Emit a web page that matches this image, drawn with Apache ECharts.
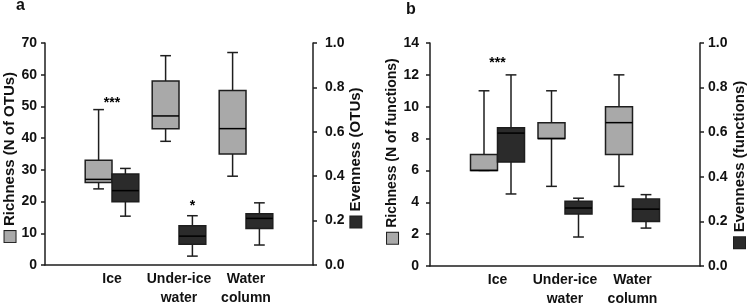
<!DOCTYPE html>
<html>
<head>
<meta charset="utf-8">
<script src="https://cdn.jsdelivr.net/npm/echarts@6/dist/echarts.min.js"></script>
<style>
html, body { margin: 0; padding: 0; background: #fff; }
#chart { width: 749px; height: 304px; }
</style>
</head>
<body>
<div id="chart"></div>
<script>
// empty slots at both ends keep the three groups off the side axes
const categories = ["", "Ice", "Under-ice\nwater", "Water\ncolumn", ""]

// [category index, min, q1, median, q3, max]
const richnessOTUs = [
    [1, 24, 26, 27, 33, 49],
    [2, 39, 43, 47, 58, 66],
    [3, 28, 35, 43, 55, 67]
]
const evennessOTUs = [
    [1, 0.22, 0.285, 0.335, 0.41, 0.435],
    [2, 0.04, 0.093, 0.13, 0.177, 0.222],
    [3, 0.09, 0.164, 0.21, 0.231, 0.28]
]
const richnessFunctions = [
    [1, 6, 6, 6, 7, 11],
    [2, 5, 8, 8, 9, 11],
    [3, 5, 7, 9, 10, 12]
]
const evennessFunctions = [
    [1, 0.323, 0.466, 0.596, 0.62, 0.857],
    [2, 0.13, 0.233, 0.26, 0.29, 0.304],
    [3, 0.17, 0.2, 0.255, 0.3, 0.32]
]

// significance marks: [category index, value, label]
const sigPairOTUs = [[1, 52.3, "***"]]
const sigEvennessOTUs = [[2, 0.284, "*"]]
const sigPairFunctions = [[1, 13, "***"]]

const LIGHT = "#a9a9a9"
const DARK = "#2b2b2b"
const INK = "#1e1e1e"
const FONT = "Liberation Sans, Arial, sans-serif"

// side: -1 box left of the category tick, 1 box right of it
function boxRenderer(side, fill){
    return function(params, api){
        let idx = api.value(0)
        let band = api.size([1, 0])[0]
        let w = band * 0.4
        let cx = api.coord([idx, 0])[0]
        let left = side < 0 ? cx - w : cx
        let mid = left + w / 2
        let cap = band * 0.08
        let y = [1, 2, 3, 4, 5].map(i => api.coord([idx, api.value(i)])[1])
        let st = { stroke: INK, lineWidth: 1.5 }
        return {
            type: "group",
            children: [
                { type: "line", shape: { x1: mid, y1: y[4], x2: mid, y2: y[3] }, style: st },
                { type: "line", shape: { x1: mid, y1: y[0], x2: mid, y2: y[1] }, style: st },
                { type: "line", shape: { x1: mid - cap, y1: y[4], x2: mid + cap, y2: y[4] }, style: st },
                { type: "line", shape: { x1: mid - cap, y1: y[0], x2: mid + cap, y2: y[0] }, style: st },
                { type: "rect", shape: { x: left, y: y[3], width: w, height: y[1] - y[3] },
                  style: { fill: fill, stroke: INK, lineWidth: 1.5 } },
                { type: "line", shape: { x1: left, y1: y[2], x2: left + w, y2: y[2] },
                  style: { stroke: "#000", lineWidth: 1.5 } }
            ]
        }
    }
}

function sigRenderer(list, side){
    return function(params, api){
        let band = api.size([1, 0])[0]
        let p = api.coord([api.value(0), api.value(1)])
        return {
            type: "text",
            x: p[0] + side * band * 0.2,
            y: p[1] + 4,
            style: {
                text: list[params.dataIndex][2],
                fill: "#000",
                font: "bold 14px " + FONT,
                align: "center",
                verticalAlign: "middle"
            }
        }
    }
}

function xAxisFor(gridIndex){
    return {
        type: "category",
        gridIndex: gridIndex,
        data: categories,
        boundaryGap: false,
        axisLine: { lineStyle: { color: INK, width: 1.5 } },
        axisTick: { show: false },
        axisLabel: {
            interval: 0, margin: 5, color: "#111",
            fontFamily: FONT, fontSize: 14, fontWeight: "bold", lineHeight: 19
        },
        splitLine: { show: false }
    }
}

function yAxisFor(opt){
    return {
        type: "value",
        gridIndex: opt.grid,
        position: opt.position,
        min: 0,
        max: opt.max,
        interval: opt.interval,
        name: "{sq|}{g|}" + opt.name,
        nameLocation: "middle",
        nameRotate: 90,
        nameGap: opt.nameGap,
        nameTextStyle: {
            color: "#111", fontFamily: FONT, fontSize: opt.nameSize, fontWeight: "bold",
            padding: opt.namePad,
            rich: {
                sq: { width: 11, height: 11, backgroundColor: opt.square, borderColor: INK, borderWidth: 1 },
                g: { width: 5 }
            }
        },
        axisLine: { show: true, lineStyle: { color: INK, width: 1.5 } },
        axisTick: { show: true, length: 4, lineStyle: { color: INK, width: 1.5 } },
        axisLabel: {
            margin: opt.labelMargin, color: "#111",
            fontFamily: FONT, fontSize: 14, fontWeight: "bold",
            formatter: v => v.toFixed(opt.digits)
        },
        splitLine: { show: false }
    }
}

let myChart = echarts.init(document.getElementById("chart"))

let option = {
    animation: false,
    backgroundColor: "#fff",
    textStyle: { fontFamily: FONT },
    title: [
        { text: "a", left: 11, top: -7, textStyle: { fontSize: 16, fontWeight: "bold", color: "#111", fontFamily: FONT } },
        { text: "b", left: 401, top: -3, textStyle: { fontSize: 16, fontWeight: "bold", color: "#111", fontFamily: FONT } }
    ],
    grid: [
        { left: 45, right: 436, top: 43, bottom: 39, outerBoundsMode: "none" },
        { left: 430, right: 49, top: 43, bottom: 38, outerBoundsMode: "none" }
    ],
    xAxis: [xAxisFor(0), xAxisFor(1)],
    yAxis: [
        yAxisFor({ grid: 0, position: "left", max: 70, interval: 10, name: "Richness (N of OTUs)",
            nameGap: 27, nameSize: 15, namePad: [0, 6, 0, 0], labelMargin: 8, square: LIGHT, digits: 0 }),
        yAxisFor({ grid: 0, position: "right", max: 1, interval: 0.2, name: "Evenness (OTUs)",
            nameGap: 33, nameSize: 15, namePad: [0, 7, 0, 0], labelMargin: 12, square: DARK, digits: 1 }),
        yAxisFor({ grid: 1, position: "left", max: 14, interval: 2, name: "Richness (N of functions)",
            nameGap: 16, nameSize: 14, namePad: [0, 0, 0, 7], labelMargin: 11, square: LIGHT, digits: 0 }),
        yAxisFor({ grid: 1, position: "right", max: 1, interval: 0.2, name: "Evenness (functions)",
            nameGap: 32, nameSize: 15, namePad: [0, 20, 0, 0], labelMargin: 8, square: DARK, digits: 1 })
    ],
    series: [
        { type: "custom", xAxisIndex: 0, yAxisIndex: 0, data: richnessOTUs, renderItem: boxRenderer(-1, LIGHT) },
        { type: "custom", xAxisIndex: 0, yAxisIndex: 1, data: evennessOTUs, renderItem: boxRenderer(1, DARK) },
        { type: "custom", xAxisIndex: 1, yAxisIndex: 2, data: richnessFunctions, renderItem: boxRenderer(-1, LIGHT) },
        { type: "custom", xAxisIndex: 1, yAxisIndex: 3, data: evennessFunctions, renderItem: boxRenderer(1, DARK) },
        { type: "custom", xAxisIndex: 0, yAxisIndex: 0, data: sigPairOTUs, renderItem: sigRenderer(sigPairOTUs, 0) },
        { type: "custom", xAxisIndex: 0, yAxisIndex: 1, data: sigEvennessOTUs, renderItem: sigRenderer(sigEvennessOTUs, 1) },
        { type: "custom", xAxisIndex: 1, yAxisIndex: 2, data: sigPairFunctions, renderItem: sigRenderer(sigPairFunctions, 0) }
    ]
}
myChart.setOption(option)
</script>
</body>
</html>
